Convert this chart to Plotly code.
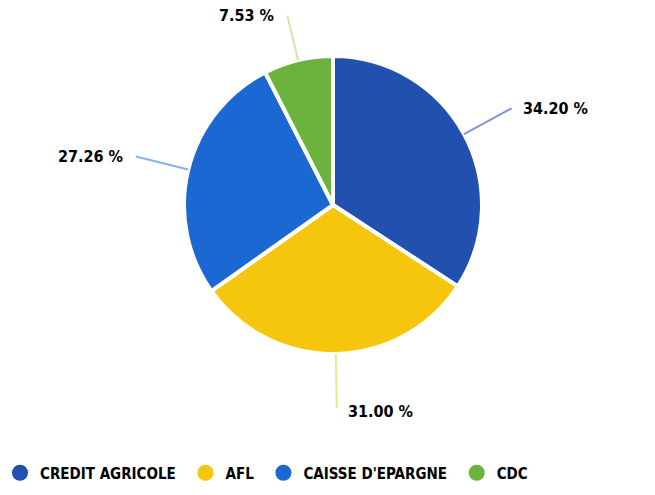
import math
import plotly.graph_objects as go

labels = ["CREDIT AGRICOLE", "AFL", "CAISSE D'EPARGNE", "CDC"]
values = [34.20, 31.00, 27.26, 7.53]
slice_colors = ["#2150AE", "#F6C60E", "#1B68D3", "#6CB33E"]
line_colors = ["#7E98CE", "#E4EC86", "#86B2E6", "#CFE8A8"]
label_texts = ["34.20 %", "31.00 %", "27.26 %", "7.53 %"]

W, H = 655, 495
CX, CY, R = 333, 205, 149  # pie centre / radius in pixels
LINE_OUT = 203
TOP_LIMIT = 16  # keep top labels inside the page
TEXT_FONT = "DejaVu Sans Condensed, Liberation Sans, sans-serif"

fig = go.Figure()
fig.add_trace(go.Pie(
    labels=labels, values=values, sort=False, direction="clockwise", rotation=0,
    marker=dict(colors=slice_colors, line=dict(color="white", width=4)),
    textinfo="none", hoverinfo="label+percent", showlegend=False,
    domain=dict(x=[(CX - R) / W, (CX + R) / W], y=[(H - CY - R) / H, (H - CY + R) / H]),
))

# legend entries
for lab, col in zip(labels, slice_colors):
    fig.add_trace(go.Scatter(x=[None], y=[None], mode="markers", name=lab + "\u00a0",
                             marker=dict(symbol="circle", size=16, color=col), showlegend=True))

total = sum(values)
cum = 0.0
shapes, annotations = [], []
for v, lc, txt in zip(values, line_colors, label_texts):
    mid = (cum + v / 2) / total * 2 * math.pi
    cum += v
    s, c = math.sin(mid), math.cos(mid)
    rout = LINE_OUT
    if c > 0 and CY - rout * c < TOP_LIMIT:
        rout = (CY - TOP_LIMIT) / c
    x0, y0 = CX + R * s, CY - R * c
    x1, y1 = CX + rout * s, CY - rout * c
    shapes.append(dict(type="line", xref="paper", yref="paper",
                       x0=x0 / W, y0=1 - y0 / H, x1=x1 / W, y1=1 - y1 / H,
                       line=dict(color=lc, width=2)))
    left = s >= -0.1
    annotations.append(dict(xref="paper", yref="paper", x=(x1 + (9 if left else -11)) / W,
                            y=1 - (y1 + (4 if c < -0.9 else 0)) / H,
                            text="<b>" + txt + "</b>", showarrow=False,
                            xanchor="left" if left else "right", yanchor="middle",
                            font=dict(family=TEXT_FONT, size=16, color="black")))

fig.update_layout(
    width=W, height=H, margin=dict(l=0, r=0, t=0, b=0),
    paper_bgcolor="white", plot_bgcolor="white",
    xaxis=dict(visible=False), yaxis=dict(visible=False),
    shapes=shapes, annotations=annotations,
    legend=dict(orientation="h", x=0, xanchor="left", y=1 - 473 / H, yanchor="middle",
                font=dict(family=TEXT_FONT, size=15, color="black", weight=600),
                itemclick=False),
)
fig.write_html("out.html", config={"displayModeBar": False},
               post_script="document.body.style.margin='0';")
